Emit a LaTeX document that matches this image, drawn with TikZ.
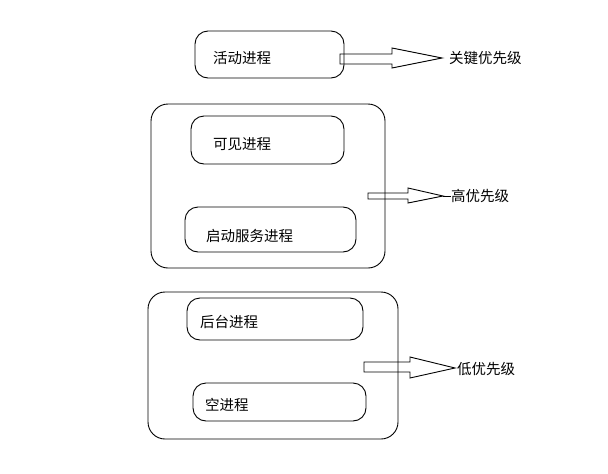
\documentclass[tikz,border=0pt]{standalone}
\usepackage{fontspec}
\newfontfamily\cjk{Noto Sans CJK SC}
\begin{document}
\begin{tikzpicture}[x=1pt,y=-1pt,
 proc/.style={draw, rounded corners=13pt, line width=0.9pt, inner sep=0},
 grp/.style={draw, rounded corners=17pt, line width=0.9pt, inner sep=0},
 lbl/.style={font=\cjk\fontsize{14.5}{16}\selectfont, inner sep=0, anchor=west},
 blockarrow/.style={draw, line width=0.9pt, line join=miter}]
\useasboundingbox (0,0) rectangle (608,474);
\fill[white] (0,0) rectangle (608,474);
% boxes
\node[proc, minimum width=149pt, minimum height=47pt] (active) at (269.5,54.5) {};
\node[grp, minimum width=234pt, minimum height=164pt] (group1) at (268,186) {};
\node[proc, minimum width=153pt, minimum height=48pt] (visible) at (267.5,140) {};
\node[proc, minimum width=171pt, minimum height=45pt] (service) at (270.5,229.5) {};
\node[grp, minimum width=250pt, minimum height=147pt] (group2) at (273,365.5) {};
\node[proc, minimum width=176pt, minimum height=42pt] (background) at (275,319) {};
\node[proc, minimum width=173pt, minimum height=38pt] (empty) at (279.5,402) {};
% texts
\node[lbl] (tactive) at (213,58) {活动进程};
\node[lbl] (tvisible) at (213,144) {可见进程};
\node[lbl] (tservice) at (206,236) {启动服务进程};
\node[lbl] (tbackground) at (200,322) {后台进程};
\node[lbl] (tempty) at (205,405) {空进程};
\node[lbl] (p1) at (449,58) {关键优先级};
\node[lbl] (p2) at (451,196) {高优先级};
\node[lbl] (p3) at (457,369) {低优先级};
% block arrows
\draw[blockarrow] (340,54) -- (392,54) -- (392,48) -- (442,58) -- (392,68) -- (392,64) -- (340,64) -- cycle;
\draw[blockarrow] (368,193) -- (408,193) -- (408,188) -- (443,196) -- (408,203) -- (408,199) -- (368,199) -- cycle;
\draw[line width=0.9pt] (443,196) -- (p2.west);
\draw[blockarrow] (364,362) -- (410,362) -- (410,357) -- (455,368) -- (410,378) -- (410,372) -- (364,372) -- cycle;
\end{tikzpicture}
\end{document}
